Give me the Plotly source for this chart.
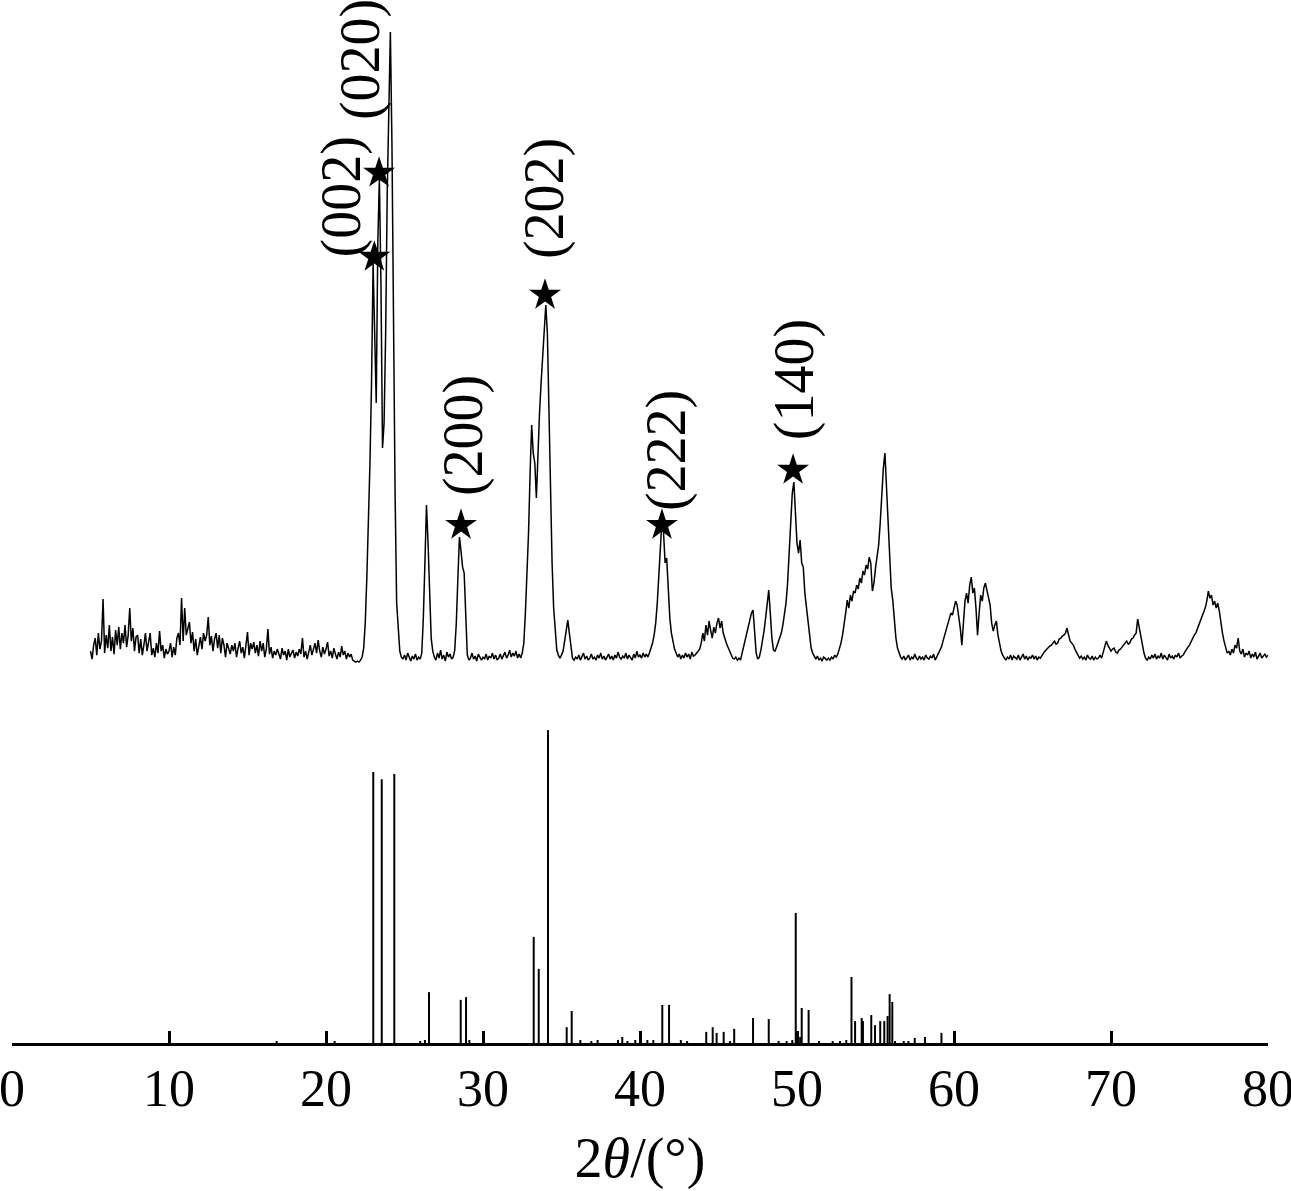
import numpy as np
import plotly.graph_objects as go

# measured XRD pattern: 2theta from 5 deg to 80 deg, 0.1 deg steps, one row per degree
scan_start = 5.0
scan_step = 0.1
intensity_rows = [
    [12, 4, 18, 25, 8, 30, 14, 22, 64, 10],        # 5
    [28, 15, 38, 12, 26, 9, 33, 18, 36, 14],       # 6
    [30, 20, 38, 16, 28, 55, 22, 35, 12, 26],      # 7
    [28, 10, 24, 8, 18, 30, 12, 22, 30, 8],        # 8
    [15, 6, 20, 10, 32, 12, 18, 5, 14, 9],         # 9
    [12, 20, 6, 16, 8, 25, 30, 18, 65, 22],        # 10
    [55, 28, 35, 41, 20, 31, 12, 24, 8, 18],       # 11
    [26, 14, 30, 22, 28, 46, 18, 27, 12, 24],      # 12
    [30, 15, 28, 10, 25, 18, 6, 20, 14, 9],        # 13
    [18, 12, 20, 6, 15, 22, 10, 16, 5, 19],        # 14
    [31, 8, 20, 14, 21, 10, 18, 7, 22, 12],        # 15
    [20, 6, 14, 34, 9, 16, 5, 12, 8, 14],          # 16
    [10, 4, 15, 8, 12, 3, 14, 6, 10, 13],          # 17
    [5, 11, 7, 14, 9, 25, 6, 12, 4, 10],           # 18
    [18, 8, 14, 20, 10, 23, 12, 6, 16, 9],         # 19
    [14, 21, 7, 12, 5, 15, 9, 4, 11, 6],           # 20
    [17, 8, 12, 4, 10, 6, 9, 3, 2, 1],             # 21
    [2, 1, 3, 6, 15, 40, 85, 135, 200, 280],       # 22
    [400, 330, 260, 420, 485, 380, 215, 240, 330, 470],  # 23
    [560, 631, 520, 330, 170, 60, 30, 12, 6, 4],   # 24
    [8, 3, 10, 5, 2, 7, 4, 9, 3, 6],               # 25
    [4, 10, 45, 100, 158, 120, 60, 25, 12, 6],     # 26
    [3, 10, 5, 13, 4, 8, 2, 11, 6, 9],             # 27
    [4, 6, 13, 40, 85, 126, 112, 96, 90, 40],      # 28
    [8, 3, 5, 10, 4, 7, 2, 9, 5, 3],               # 29
    [6, 4, 9, 3, 7, 5, 10, 4, 8, 3],               # 30
    [5, 9, 4, 7, 11, 5, 8, 13, 6, 10],             # 31
    [7, 12, 5, 9, 5, 10, 20, 50, 90, 130],         # 32
    [190, 238, 210, 200, 165, 220, 250, 280, 310, 340],  # 33
    [358, 330, 240, 180, 100, 55, 28, 13, 8, 5],   # 34
    [8, 12, 22, 35, 43, 30, 14, 5, 3, 6],          # 35
    [4, 8, 3, 6, 10, 4, 7, 3, 5, 9],               # 36
    [4, 6, 3, 8, 5, 10, 4, 7, 3, 6],               # 37
    [9, 4, 7, 3, 8, 5, 11, 6, 4, 7],               # 38
    [5, 10, 4, 8, 6, 3, 9, 5, 12, 6],              # 39
    [8, 5, 10, 6, 9, 6, 10, 14, 20, 28],           # 40
    [40, 60, 90, 120, 143, 130, 100, 105, 70, 45], # 41
    [30, 20, 14, 10, 6, 9, 4, 8, 5, 10],           # 42
    [6, 9, 4, 11, 7, 8, 10, 12, 14, 20],           # 43
    [30, 22, 38, 28, 42, 33, 25, 36, 30, 40],      # 44
    [45, 35, 42, 30, 24, 20, 16, 12, 8, 5],        # 45
    [4, 6, 3, 5, 3, 10, 16, 22, 30, 36],           # 46
    [42, 50, 53, 30, 10, 4, 6, 13, 22, 32],        # 47
    [45, 60, 73, 50, 25, 13, 12, 16, 20, 25],      # 48
    [30, 38, 48, 60, 80, 110, 140, 170, 181, 150], # 49
    [120, 110, 123, 100, 96, 70, 55, 40, 28, 15],  # 50
    [10, 6, 4, 7, 3, 5, 2, 6, 4, 3],               # 51
    [5, 3, 6, 4, 8, 6, 9, 14, 20, 28],             # 52
    [38, 50, 63, 55, 68, 62, 72, 70, 78, 74],      # 53
    [85, 80, 92, 88, 98, 94, 106, 100, 72, 80],    # 54
    [95, 105, 118, 140, 170, 195, 210, 175, 130, 95],  # 55
    [75, 63, 40, 25, 15, 10, 6, 4, 7, 3],          # 56
    [5, 8, 3, 6, 4, 9, 5, 3, 7, 4],                # 57
    [6, 3, 8, 5, 4, 7, 5, 9, 3, 6],                # 58
    [10, 12, 16, 22, 28, 33, 40, 45, 50, 48],      # 59
    [56, 62, 58, 48, 35, 18, 40, 62, 70, 60],      # 60
    [78, 86, 70, 75, 55, 28, 50, 68, 62, 75],      # 61
    [80, 72, 66, 58, 40, 32, 38, 42, 28, 18],      # 62
    [12, 8, 5, 3, 6, 4, 8, 3, 7, 5],               # 63
    [4, 8, 3, 6, 9, 4, 7, 3, 6, 5],                # 64
    [8, 4, 7, 3, 6, 5, 8, 10, 12, 14],             # 65
    [15, 17, 18, 20, 22, 19, 20, 24, 25, 27],      # 66
    [28, 30, 35, 28, 22, 20, 18, 14, 10, 8],       # 67
    [5, 7, 4, 6, 3, 8, 5, 4, 7, 3],                # 68
    [6, 4, 5, 8, 5, 10, 15, 22, 18, 15],           # 69
    [12, 14, 15, 11, 10, 13, 14, 16, 18, 20],      # 70
    [22, 19, 20, 24, 25, 28, 30, 44, 35, 28],      # 71
    [20, 10, 5, 3, 6, 4, 8, 5, 9, 4],              # 72
    [7, 5, 10, 4, 8, 6, 3, 9, 5, 7],               # 73
    [4, 8, 6, 10, 5, 7, 8, 11, 14, 16],            # 74
    [18, 22, 25, 28, 30, 34, 38, 42, 45, 50],      # 75
    [55, 62, 72, 65, 68, 58, 62, 55, 60, 52],      # 76
    [40, 30, 22, 15, 10, 12, 8, 14, 10, 18],       # 77
    [15, 25, 12, 9, 14, 6, 10, 8, 12, 5],          # 78
    [9, 6, 11, 4, 8, 10, 5, 7, 9, 6],              # 79
    [8],                                           # 80
]

# standard reference card (stick pattern), relative intensity %
ref_pos = [16.86, 20.55, 23.01, 23.55, 24.35, 26.0, 26.3, 26.56, 28.58, 28.92,
           29.13, 33.23, 33.55, 34.14, 35.33, 35.65, 36.2, 36.9, 37.3, 38.6,
           38.87, 39.2, 39.7, 40.47, 40.85, 41.42, 41.85, 42.6, 43.0, 44.22,
           44.63, 44.88, 45.33, 45.73, 46.0, 47.2, 48.2, 48.83, 49.34, 49.7,
           49.92, 50.2, 50.3, 50.74, 51.4, 52.27, 52.74, 53.14, 53.47, 53.7,
           54.12, 54.2, 54.73, 54.97, 55.3, 55.56, 55.77, 55.9, 56.07, 56.24,
           56.8, 57.1, 57.5, 58.15, 59.2]
ref_int = [0.6, 0.6, 80.4, 78.3, 79.8, 0.6, 0.9, 15.1, 12.8, 13.6,
           0.9, 31.5, 22.0, 100, 4.7, 9.5, 0.9, 0.6, 0.9, 0.9,
           1.8, 0.6, 0.9, 0.9, 0.9, 11.3, 11.3, 0.9, 0.6, 3.3,
           4.7, 3.0, 3.3, 0.6, 4.2, 7.4, 7.1, 0.6, 0.6, 0.9,
           38.6, 1.8, 10.4, 9.8, 0.6, 0.6, 0.6, 0.9, 19.6, 6.5,
           7.4, 6.5, 8.3, 5.3, 6.5, 6.5, 8.0, 14.5, 12.2, 0.6,
           0.6, 0.6, 1.5, 1.8, 3.0]

peak_labels = ['(002)', '(020)', '(200)', '(202)', '(222)', '(140)']
peak_pos = [23.08, 23.38, 28.6, 33.95, 41.4, 49.75]
peak_int = [406, 490, 138, 368, 138, 193]
label_shift = [(-33, 60), (-19, 113), (2, 89), (-1, 96), (4, 75), (1, 90)]

x_ticks = [0, 10, 20, 30, 40, 50, 60, 70, 80]

intensity = [v for row in intensity_rows for v in row]
two_theta = np.round(scan_start + scan_step * np.arange(len(intensity)), 2)

stick_x, stick_y = [], []
for p, h in zip(ref_pos, ref_int):
    stick_x += [p, p, None]
    stick_y += [0, h, None]

FONT = 'Liberation Serif'

fig = go.Figure()
fig.add_trace(go.Scatter(
    x=stick_x, y=stick_y, mode='lines',
    line=dict(color='black', width=2),
    xaxis='x', yaxis='y', hoverinfo='skip'
))
fig.add_trace(go.Scatter(
    x=two_theta, y=intensity, mode='lines',
    line=dict(color='black', width=1.5),
    xaxis='x', yaxis='y2'
))
fig.add_trace(go.Scatter(
    x=peak_pos, y=peak_int, mode='markers',
    marker=dict(symbol='star', size=24, color='black'),
    xaxis='x', yaxis='y2', cliponaxis=False
))

for lab, px, py, (dx, dy) in zip(peak_labels, peak_pos, peak_int, label_shift):
    fig.add_annotation(
        x=px, y=py, xref='x', yref='y2', text=lab, showarrow=False,
        textangle=-90, xshift=dx, yshift=dy,
        font=dict(family=FONT, size=56, color='black')
    )

fig.update_layout(
    width=1291, height=1191,
    margin=dict(l=12, r=23, t=0, b=148),
    plot_bgcolor='white', paper_bgcolor='white',
    showlegend=False,
    xaxis=dict(
        range=[0, 80], tickvals=x_ticks, ticks='inside', ticklen=12,
        tickwidth=3, tickcolor='black', showline=True, linewidth=3,
        linecolor='black', showgrid=False, zeroline=False,
        tickfont=dict(family=FONT, size=52, color='black'),
        ticklabelstandoff=-2, ticklabeloverflow='allow',
        automargin=False, anchor='y',
        title=dict(text='2<i>θ</i>/(°)', standoff=22,
                   font=dict(family=FONT, size=56, color='black'))
    ),
    yaxis=dict(domain=[0, 0.3231], range=[0, 100], visible=False),
    yaxis2=dict(domain=[0.3, 1], range=[-67, 663], visible=False, anchor='x'),
)

fig.write_html("out.html", config={'displayModeBar': False},
               post_script="document.body.style.margin='0';")
